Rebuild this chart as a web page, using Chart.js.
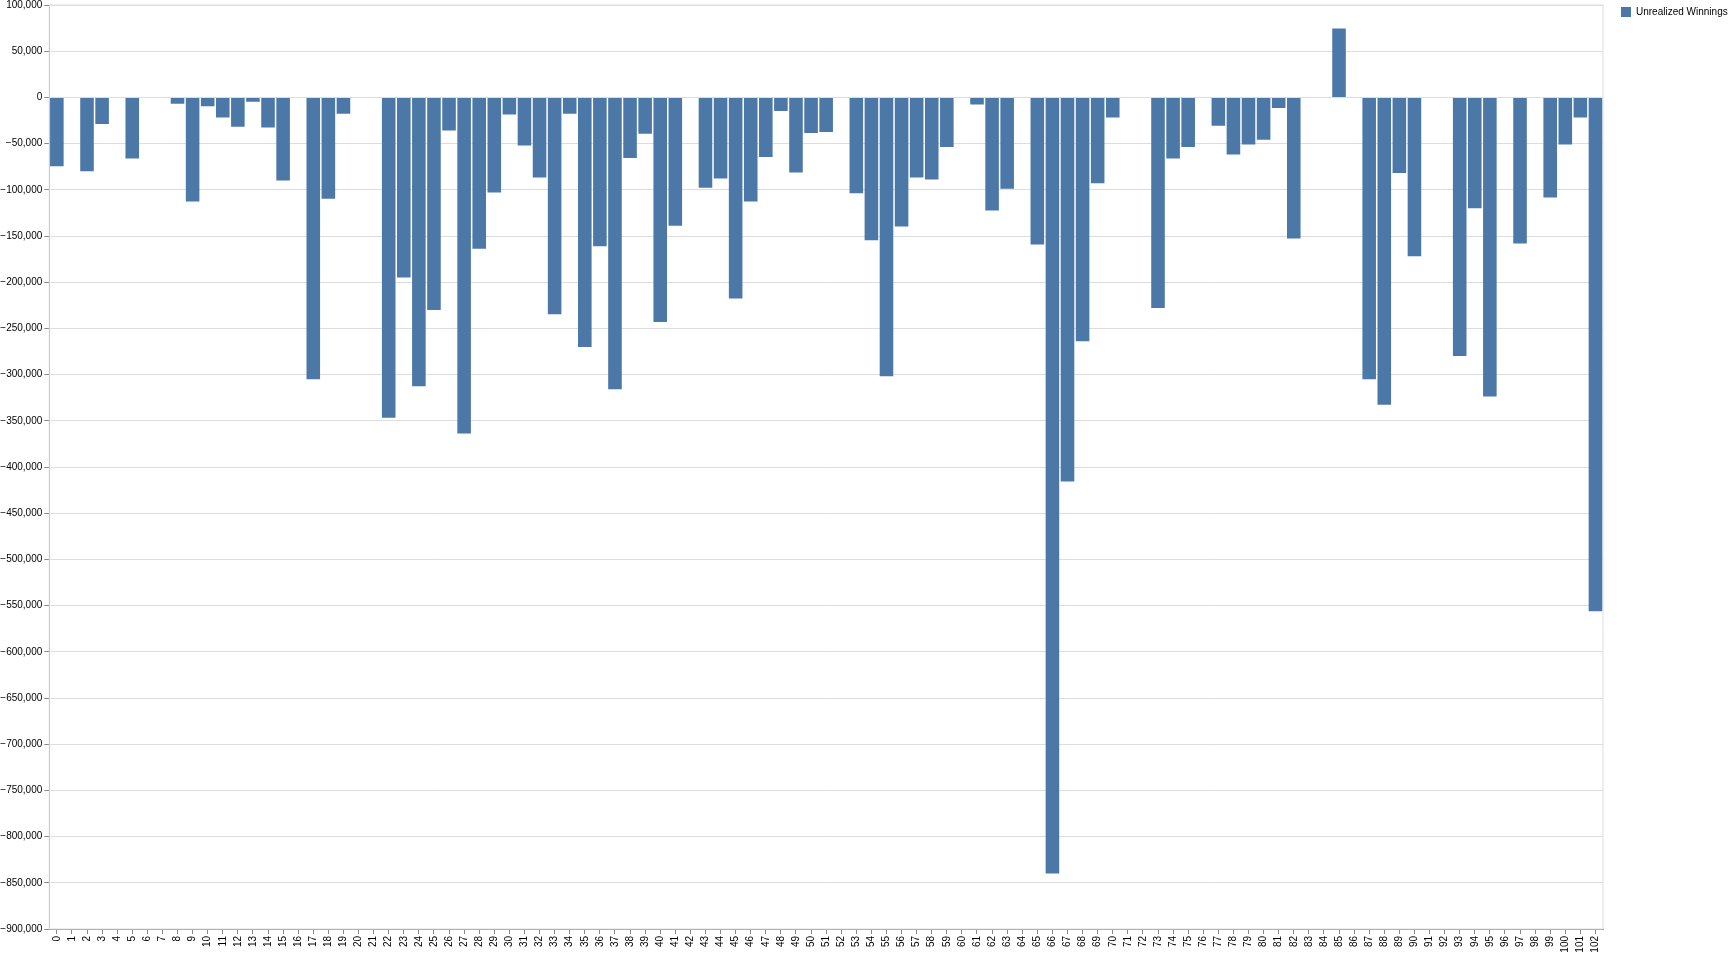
<!DOCTYPE html>
<html>
<head>
<meta charset="utf-8">
<script src="https://cdn.jsdelivr.net/npm/chart.js@4"></script>
<style>
  html, body { margin: 0; padding: 0; background: #ffffff; }
  #wrap { width: 1730px; height: 973px; }
</style>
</head>
<body>
<div id="wrap"><canvas id="c" width="1730" height="973"></canvas></div>
<script>
// ---- data ----
const categories = Array.from({length: 103}, (_, i) => String(i));
const seriesName = "Unrealized Winnings";
const unrealizedWinnings = [
  -74400, 0, -79800, -28900, 0, -66100, 0, 0, -6900, -112600,
  -9700, -21700, -31800, -4700, -32500, -89900, 0, -305000, -109700, -17700,
  0, 0, -346800, -195000, -312500, -230000, -35700, -363700, -163900, -102900,
  -18400, -52000, -86600, -234700, -17700, -270000, -161000, -315900, -65700, -39300,
  -243000, -139000, 0, -97800, -87700, -217700, -112600, -64600, -14800, -81200,
  -38600, -37500, 0, -103600, -154500, -301800, -139700, -86600, -88800, -53800,
  0, -7600, -122400, -98900, 0, -159200, -839900, -415600, -263900, -92800,
  -21700, 0, 0, -227800, -66100, -53800, 0, -30700, -61700, -50900,
  -45800, -11600, -152700, 0, 0, 74700, 0, -305000, -332700, -81900,
  -171800, 0, 0, -279800, -119900, -323800, 0, -158100, 0, -108300,
  -50900, -21700, -556000
];
const yMin = -900000;
const yMax = 100000;
const yStep = 50000;

// ---- layout constants ----
const AREA_LEFT = 49.3;
const AREA_RIGHT = 1603;
const AREA_TOP = 5;
const AREA_BOTTOM = 929;
const CANVAS_W = 1730, CANVAS_H = 973;

const fmt = v => (v < 0 ? '\u2212' : '') + Math.abs(v).toLocaleString('en-US');

const layoutPlugin = {
  id: 'layoutFix',
  beforeLayout(chart) {
    const lg = chart.legend;
    if (lg && !lg._patched) {
      const f = lg.fit;
      lg.fit = function () { f.call(this); this.width = CANVAS_W - AREA_RIGHT; };
      lg._patched = true;
    }
  },
  afterLayout(chart) {
    const lg = chart.legend;
    if (lg) { lg.left = 1614; lg.top = 0; }
  },
  beforeDatasetsDraw(chart) {
    const {ctx, chartArea: a} = chart;
    ctx.save();
    ctx.strokeStyle = '#dddddd';
    ctx.lineWidth = 1;
    ctx.strokeRect(a.left, a.top, a.right - a.left, a.bottom - a.top);
    ctx.restore();
  }
};

new Chart(document.getElementById('c'), {
  type: 'bar',
  data: {
    labels: categories,
    datasets: [{
      label: seriesName,
      data: unrealizedWinnings,
      backgroundColor: '#4c78a8',
      borderWidth: 0,
      categoryPercentage: 1.0,
      barPercentage: 0.9
    }]
  },
  options: {
    responsive: false,
    animation: false,
    devicePixelRatio: 1,
    layout: { padding: { top: AREA_TOP, left: 0, right: 0, bottom: 0 } },
    plugins: {
      legend: {
        position: 'right',
        align: 'start',
        labels: {
          boxWidth: 10,
          boxHeight: 10,
          padding: 7,
          color: '#000',
          font: { family: '"Liberation Sans", Arial, sans-serif', size: 10 }
        }
      },
      tooltip: { enabled: false }
    },
    scales: {
      x: {
        offset: true,
        grid: { display: true, drawOnChartArea: false, drawTicks: true, tickLength: 5, color: '#888888', offset: false },
        border: { display: true, color: '#888888' },
        ticks: {
          autoSkip: false,
          minRotation: 90,
          maxRotation: 90,
          padding: 2,
          color: '#000',
          font: { family: '"Liberation Sans", Arial, sans-serif', size: 10 }
        },
        afterFit(scale) {
          scale.height = CANVAS_H - AREA_BOTTOM;
          scale.paddingLeft = 0; scale.paddingRight = 0;
        }
      },
      y: {
        min: yMin,
        max: yMax,
        grid: { color: '#dddddd', tickLength: 5, tickColor: '#888888' },
        border: { display: true, color: '#888888' },
        ticks: {
          stepSize: yStep,
          padding: 2,
          color: '#000',
          font: { family: '"Liberation Sans", Arial, sans-serif', size: 10 },
          callback: (v) => fmt(v)
        },
        afterFit(scale) {
          scale.width = AREA_LEFT;
          scale.paddingTop = 0; scale.paddingBottom = 0;
        }
      }
    }
  },
  plugins: [layoutPlugin]
});
</script>
</body>
</html>
